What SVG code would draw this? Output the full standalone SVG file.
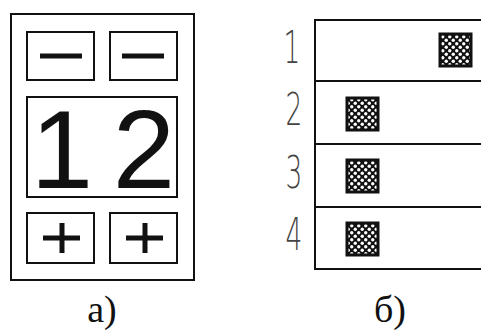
<svg xmlns="http://www.w3.org/2000/svg" width="481" height="331" viewBox="0 0 481 331">
<defs>
<pattern id="dots" width="7" height="7" patternUnits="userSpaceOnUse">
<rect width="7" height="7" fill="#111"/>
<circle cx="1.75" cy="1.75" r="1.7" fill="#fff"/>
<circle cx="5.25" cy="5.25" r="1.7" fill="#fff"/>
</pattern>
</defs>
<style>
.box{fill:none;stroke:#111;stroke-width:2}
.sign{stroke:#111;stroke-width:5;stroke-linecap:butt}
.hatch{fill:url(#dots);stroke:#111;stroke-width:3}
.num{font-family:"DejaVu Sans","Liberation Sans",sans-serif;font-weight:200;font-size:44px;fill:#444;text-anchor:middle}
.cap{font-family:"Liberation Serif","Times New Roman",serif;font-size:38px;fill:#111;text-anchor:middle}
.big{font-family:"Liberation Sans",Arial,sans-serif;font-size:112px;fill:#111;text-anchor:middle}
</style>
<rect width="481" height="331" fill="#fff"/>
<g id="panel-a">
<rect class="box" x="11" y="14" width="183" height="266"/>
<g id="minus1"><rect class="box" x="27" y="32" width="67" height="48"/><line class="sign" x1="40" y1="56" x2="82" y2="56"/></g>
<g id="minus2"><rect class="box" x="110" y="32" width="67" height="48"/><line class="sign" x1="122" y1="56" x2="164" y2="56"/></g>
<g id="display"><rect class="box" x="27" y="97" width="150" height="100"/>
<text class="big" x="62" y="188">1</text>
<text class="big" x="144" y="188">2</text></g>
<g id="plus1"><rect class="box" x="27" y="213" width="67" height="50"/><line class="sign" x1="43" y1="238" x2="80" y2="238"/><line class="sign" x1="62" y1="223" x2="62" y2="253"/></g>
<g id="plus2"><rect class="box" x="110" y="213" width="67" height="50"/><line class="sign" x1="126" y1="238" x2="163" y2="238"/><line class="sign" x1="145" y1="223" x2="145" y2="253"/></g>
<text class="cap" x="102" y="322">a)</text>
</g>
<g id="panel-b">
<rect class="box" x="315" y="20" width="170" height="249"/>
<line class="box" x1="315" y1="81" x2="481" y2="81"/>
<line class="box" x1="315" y1="144" x2="481" y2="144"/>
<line class="box" x1="315" y1="207" x2="481" y2="207"/>
<text class="num" transform="translate(292,63) scale(0.6,1)">1</text>
<text class="num" transform="translate(294,125) scale(0.6,1)">2</text>
<text class="num" transform="translate(294,188) scale(0.6,1)">3</text>
<text class="num" transform="translate(294,250) scale(0.6,1)">4</text>
<g id="ind1"><rect class="hatch" x="440" y="34" width="31" height="32"/></g>
<g id="ind2"><rect class="hatch" x="347" y="98" width="31" height="32"/></g>
<g id="ind3"><rect class="hatch" x="347" y="160" width="31" height="32"/></g>
<g id="ind4"><rect class="hatch" x="347" y="223" width="31" height="32"/></g>
<text class="cap" x="390" y="322">б)</text>
</g>
</svg>
